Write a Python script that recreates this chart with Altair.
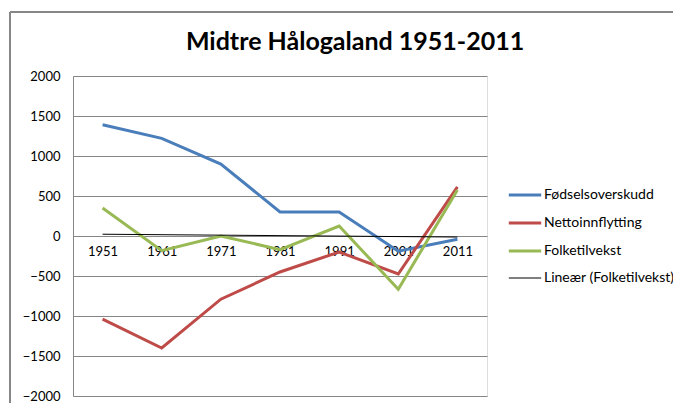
import altair as alt
import pandas as pd

years = [1951, 1961, 1971, 1981, 1991, 2001, 2011]
fodselsoverskudd = [1390, 1220, 900, 300, 300, -190, -40]
nettoinnflytting = [-1040, -1400, -790, -450, -200, -475, 615]
folketilvekst = [350, -183, 0, -170, 125, -665, 575]

series_names = ["Fødselsoverskudd", "Nettoinnflytting", "Folketilvekst", "Lineær (Folketilvekst)"]
series_colors = ["#4A7EBB", "#BE4B48", "#98B954", "#000000"]
series_widths = [3, 3, 3, 1]
y_ticks = [-2000, -1500, -1000, -500, 0, 500, 1000, 1500, 2000]
title_text = "Midtre Hålogaland 1951-2011"

rows = []
for name, vals in zip(series_names[:3], [fodselsoverskudd, nettoinnflytting, folketilvekst]):
    for yr, v in zip(years, vals):
        rows.append({"year": yr, "value": v, "series": name})
df = pd.DataFrame(rows)

FONT = "Lato"

x_enc = alt.X("year:Q",
              scale=alt.Scale(domain=[1946, 2016], nice=False, zero=False),
              axis=alt.Axis(values=years, format="d", title=None, grid=False, domain=False,
                            ticks=False, offset=-160, labelPadding=9, labelFontSize=13,
                            labelColor="#000000", labelFont=FONT))
y_enc = alt.Y("value:Q",
              scale=alt.Scale(domain=[-2000, 2000], nice=False),
              axis=alt.Axis(values=y_ticks, format="d", title=None, ticks=False, labelPadding=13,
                            labelFontSize=13, labelColor="#000000", labelFont=FONT,
                            gridColor="#868686", gridWidth=1, domainColor="#868686"))
legend_kw = dict(title=None, orient="none", legendX=434, legendY=101,
                 symbolType="stroke", symbolSize=1050,
                 labelFont=FONT, labelFontSize=14, labelColor="#000000",
                 rowPadding=3, labelOffset=1)
color_enc = alt.Color("series:N",
                      scale=alt.Scale(domain=series_names, range=series_colors),
                      legend=alt.Legend(**legend_kw))
width_enc = alt.StrokeWidth("series:N",
                            scale=alt.Scale(type="ordinal", domain=series_names, range=series_widths),
                            legend=alt.Legend(**legend_kw))

lines = alt.Chart(df).mark_line(strokeCap="butt").encode(
    x=x_enc, y=y_enc, color=color_enc, strokeWidth=width_enc,
    order="year:Q", detail="series:N")

trend = alt.Chart(df).transform_filter(
    alt.datum.series == "Folketilvekst"
).transform_regression("year", "value").transform_calculate(
    series="'Lineær (Folketilvekst)'"
).mark_line().encode(x=x_enc, y=y_enc, color=color_enc, strokeWidth=width_enc)

frame = alt.Chart(df).mark_rect(fill=None, stroke="#868686", strokeWidth=1).encode(
    x=alt.value(-63), x2=alt.value(640), y=alt.value(-64), y2=alt.value(340))

title = alt.Chart(pd.DataFrame({"t": [title_text]})).mark_text(
    font=FONT, fontSize=25, fontWeight="bold", color="#000000",
    align="center", baseline="alphabetic"
).encode(text="t:N", x=alt.value(282), y=alt.value(-26))

chart = alt.layer(frame, lines, trend, title).properties(
    width=414, height=320,
    autosize=alt.AutoSizeParams(type="none"),
    padding={"left": 65, "top": 68, "right": 186, "bottom": 7},
).configure_view(stroke=None).configure(background="white")

chart.save("out.html", embed_options={"renderer": "svg", "actions": False})
